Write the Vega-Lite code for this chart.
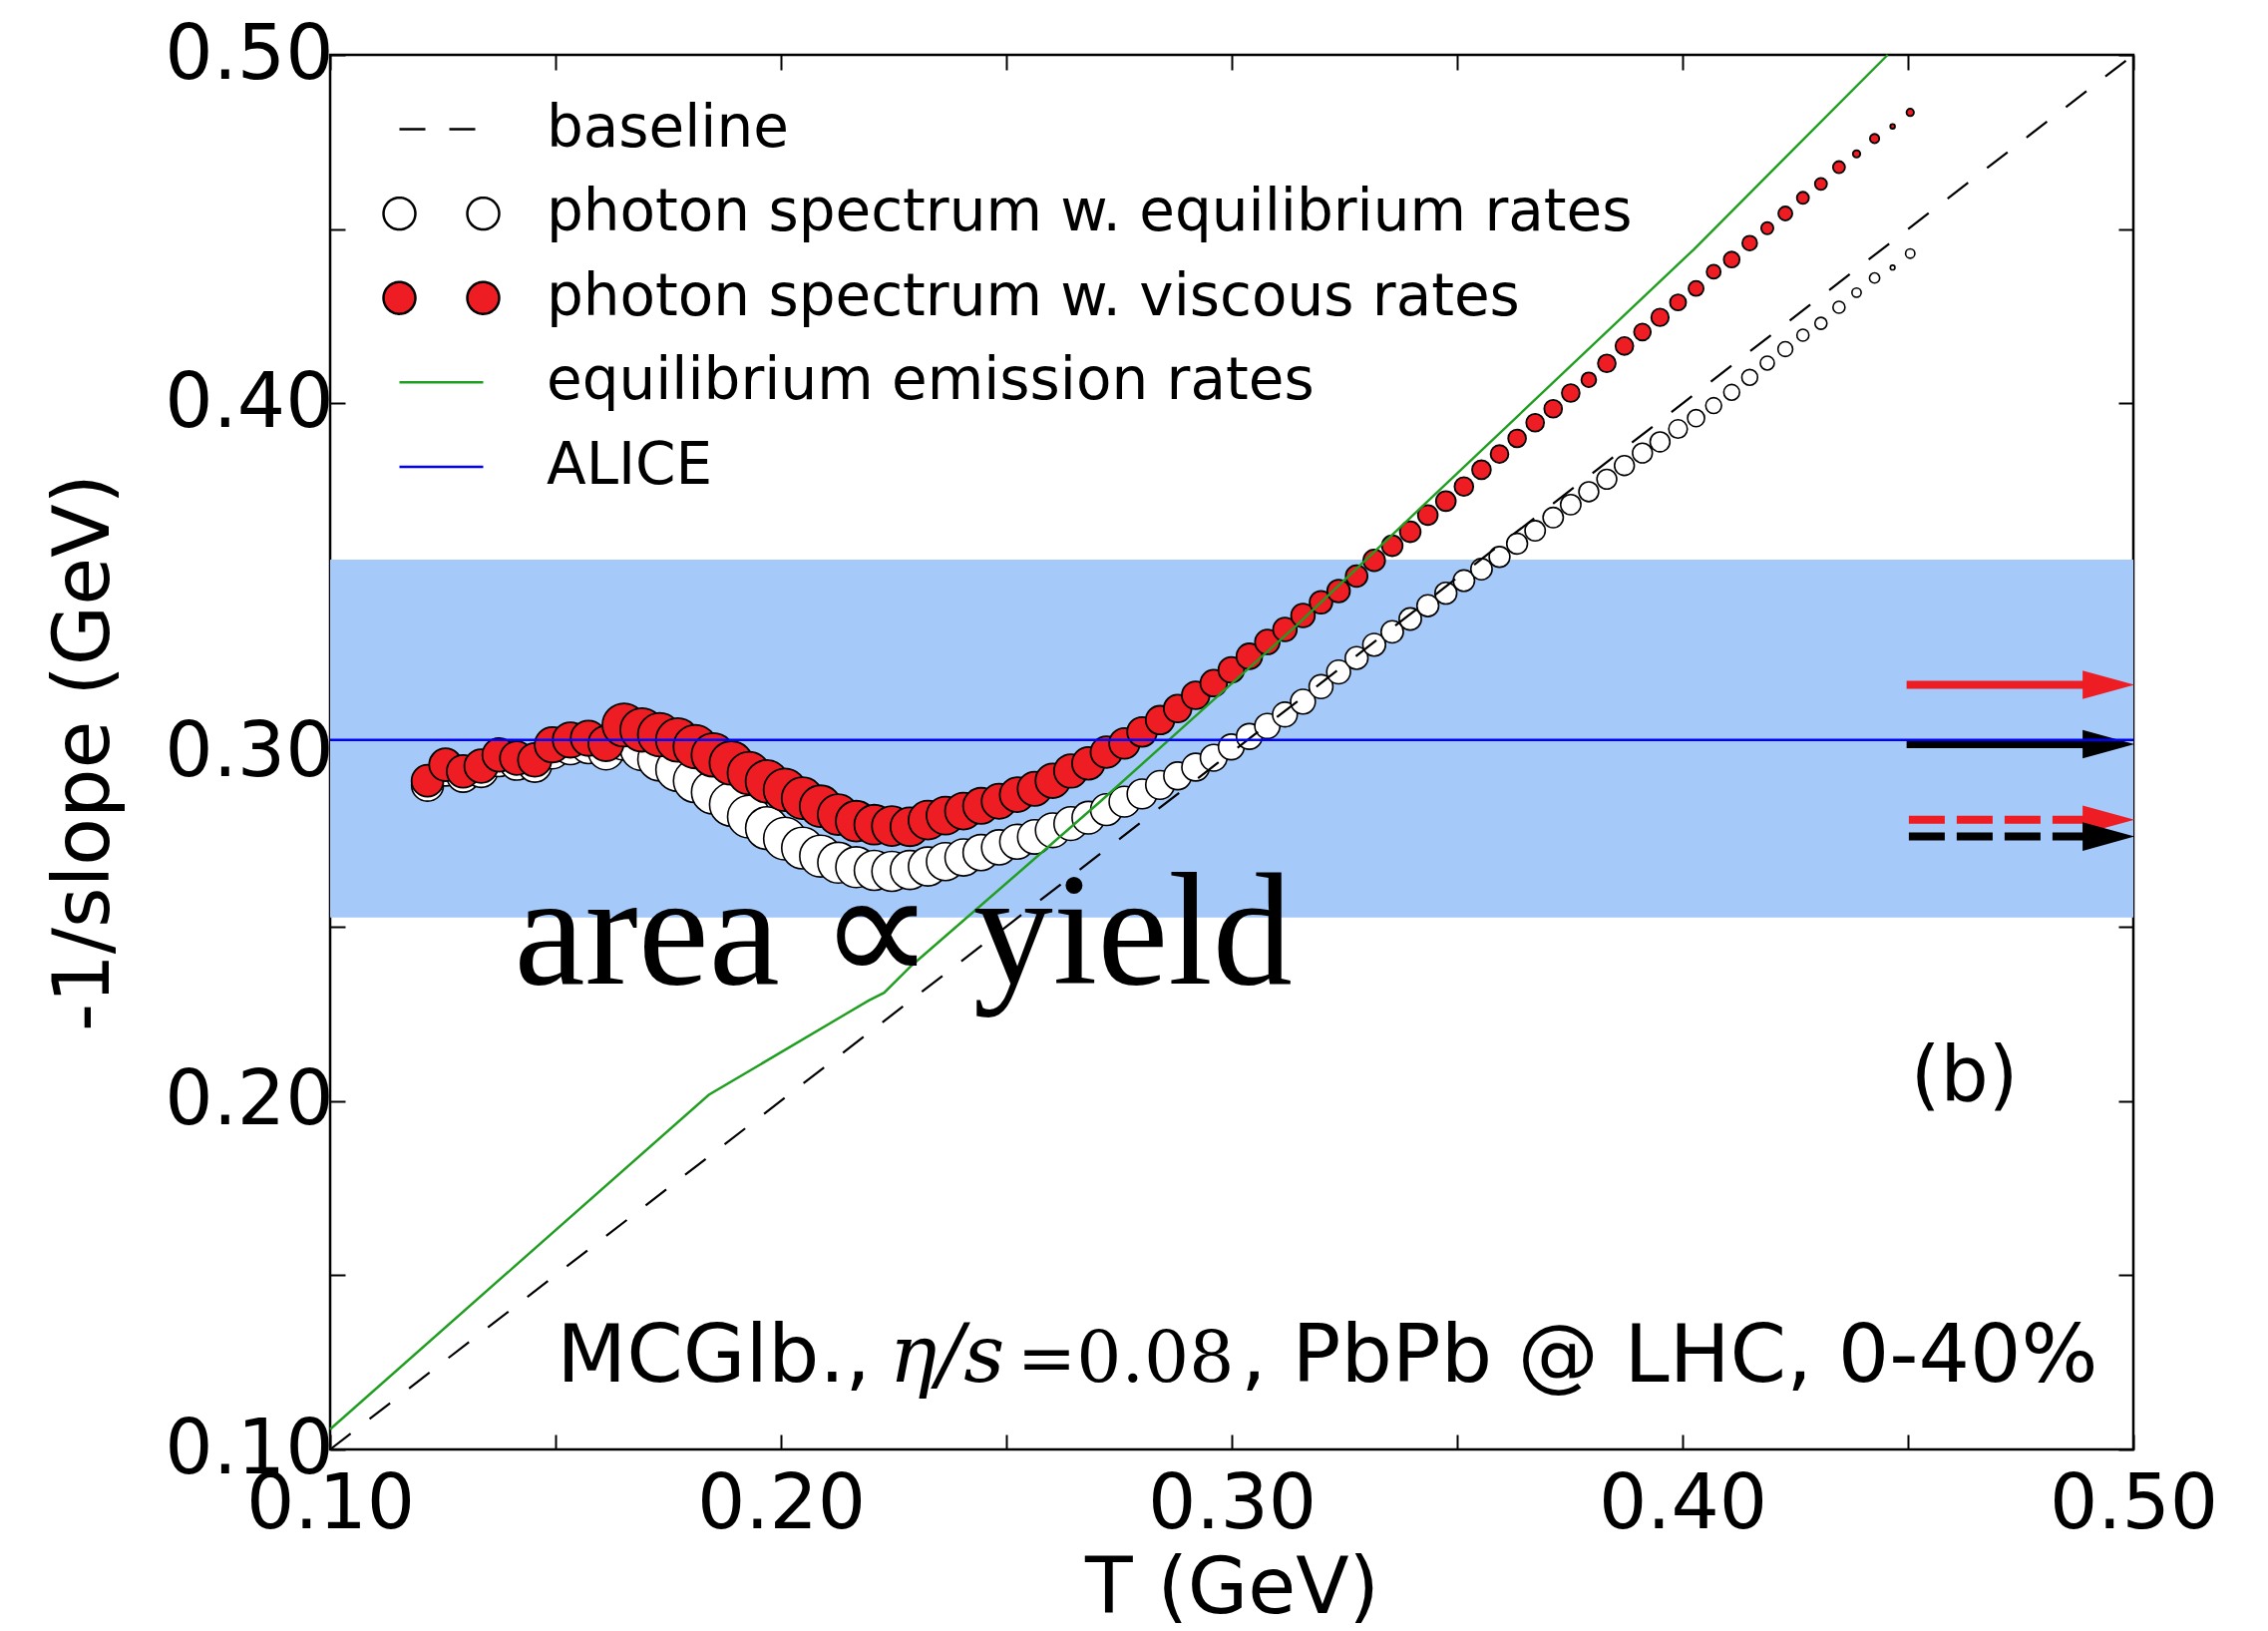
{
"$schema":"https://vega.github.io/schema/vega-lite/v6.json",
"width":1808,"height":1398,
"autosize":{"type":"none"},
"padding":{"left":331,"top":55,"right":135,"bottom":182},
"background":"white",
"config":{"view":{"stroke":"#000000","strokeWidth":2.5},"font":"DejaVu Sans"},
"datasets":{
"viscous":[
{"T":0.1216,"slope":0.2918,"yield":12.96},{"T":0.1256,"slope":0.2964,"yield":13.69},{"T":0.1295,"slope":0.2945,"yield":13.69},{"T":0.1335,"slope":0.2960,"yield":14.44},{"T":0.1375,"slope":0.2992,"yield":14.44},{"T":0.1414,"slope":0.2983,"yield":14.44},{"T":0.1454,"slope":0.2978,"yield":14.44},{"T":0.1493,"slope":0.3021,"yield":16},{"T":0.1533,"slope":0.3035,"yield":16},{"T":0.1573,"slope":0.3040,"yield":16},{"T":0.1612,"slope":0.3025,"yield":16},{"T":0.1652,"slope":0.3078,"yield":24},{"T":0.1692,"slope":0.3064,"yield":24.3},{"T":0.1731,"slope":0.3050,"yield":24.3},{"T":0.1771,"slope":0.3035,"yield":24.3},{"T":0.1810,"slope":0.3016,"yield":24.3},{"T":0.1850,"slope":0.2992,"yield":24.3},{"T":0.1890,"slope":0.2969,"yield":24.3},{"T":0.1929,"slope":0.2940,"yield":23.3},{"T":0.1969,"slope":0.2916,"yield":23.3},{"T":0.2009,"slope":0.2892,"yield":23.3},{"T":0.2048,"slope":0.2868,"yield":22.3},{"T":0.2088,"slope":0.2845,"yield":22.3},{"T":0.2127,"slope":0.2821,"yield":21.3},{"T":0.2167,"slope":0.2802,"yield":21.3},{"T":0.2207,"slope":0.2792,"yield":20.3},{"T":0.2246,"slope":0.2788,"yield":20.3},{"T":0.2286,"slope":0.2786,"yield":19.3},{"T":0.2326,"slope":0.2805,"yield":19.3},{"T":0.2365,"slope":0.2818,"yield":18.4},{"T":0.2405,"slope":0.2831,"yield":17.5},{"T":0.2444,"slope":0.2846,"yield":16.6},{"T":0.2484,"slope":0.2859,"yield":15.7},{"T":0.2524,"slope":0.2878,"yield":15.5},{"T":0.2563,"slope":0.2895,"yield":15},{"T":0.2603,"slope":0.2918,"yield":15.3},{"T":0.2643,"slope":0.2946,"yield":14.45},{"T":0.2682,"slope":0.2968,"yield":13.6},{"T":0.2722,"slope":0.3000,"yield":12.8},{"T":0.2762,"slope":0.3025,"yield":12},{"T":0.2801,"slope":0.3058,"yield":11.25},{"T":0.2841,"slope":0.3092,"yield":10.5},{"T":0.2880,"slope":0.3125,"yield":9.8},{"T":0.2920,"slope":0.3163,"yield":9.8},{"T":0.2960,"slope":0.3198,"yield":9.1},{"T":0.2999,"slope":0.3236,"yield":8.45},{"T":0.3039,"slope":0.3275,"yield":8.45},{"T":0.3079,"slope":0.3316,"yield":7.8},{"T":0.3118,"slope":0.3352,"yield":7.2},{"T":0.3158,"slope":0.3392,"yield":7.2},{"T":0.3198,"slope":0.3430,"yield":6.6},{"T":0.3237,"slope":0.3462,"yield":6.6},{"T":0.3277,"slope":0.3505,"yield":6.05},{"T":0.3316,"slope":0.3550,"yield":6.05},{"T":0.3356,"slope":0.3592,"yield":5.5},{"T":0.3396,"slope":0.3632,"yield":5.5},{"T":0.3435,"slope":0.3680,"yield":5},{"T":0.3475,"slope":0.3720,"yield":5},{"T":0.3515,"slope":0.3762,"yield":4.5},{"T":0.3554,"slope":0.3810,"yield":4.5},{"T":0.3594,"slope":0.3855,"yield":4.05},{"T":0.3633,"slope":0.3900,"yield":4.05},{"T":0.3673,"slope":0.3945,"yield":4.05},{"T":0.3713,"slope":0.3985,"yield":4.05},{"T":0.3752,"slope":0.4030,"yield":4.05},{"T":0.3792,"slope":0.4068,"yield":2.8},{"T":0.3832,"slope":0.4115,"yield":4.05},{"T":0.3871,"slope":0.4165,"yield":4.05},{"T":0.3911,"slope":0.4205,"yield":3.6},{"T":0.3950,"slope":0.4247,"yield":3.9},{"T":0.3990,"slope":0.4290,"yield":3.3},{"T":0.4030,"slope":0.4330,"yield":2.9},{"T":0.4069,"slope":0.4378,"yield":2.5},{"T":0.4109,"slope":0.4413,"yield":3.2},{"T":0.4149,"slope":0.4460,"yield":2.8},{"T":0.4188,"slope":0.4503,"yield":1.9},{"T":0.4228,"slope":0.4545,"yield":2.5},{"T":0.4267,"slope":0.4590,"yield":1.85},{"T":0.4307,"slope":0.4630,"yield":1.85},{"T":0.4347,"slope":0.4678,"yield":1.85},{"T":0.4386,"slope":0.4716,"yield":0.7},{"T":0.4426,"slope":0.4760,"yield":1.1},{"T":0.4466,"slope":0.4795,"yield":0.28},{"T":0.4505,"slope":0.4835,"yield":0.7}
],
"equilibrium":[
{"T":0.1216,"slope":0.2905,"yield":12.96},{"T":0.1256,"slope":0.2950,"yield":13.69},{"T":0.1295,"slope":0.2932,"yield":13.69},{"T":0.1335,"slope":0.2947,"yield":14.44},{"T":0.1375,"slope":0.2978,"yield":14.44},{"T":0.1414,"slope":0.2968,"yield":14.44},{"T":0.1454,"slope":0.2962,"yield":14.44},{"T":0.1493,"slope":0.3003,"yield":16},{"T":0.1533,"slope":0.3015,"yield":16},{"T":0.1573,"slope":0.3018,"yield":16},{"T":0.1612,"slope":0.3000,"yield":16},{"T":0.1652,"slope":0.3040,"yield":24.3},{"T":0.1692,"slope":0.3010,"yield":24.3},{"T":0.1731,"slope":0.2980,"yield":24.3},{"T":0.1771,"slope":0.2950,"yield":24.3},{"T":0.1810,"slope":0.2918,"yield":24.3},{"T":0.1850,"slope":0.2885,"yield":24.3},{"T":0.1890,"slope":0.2850,"yield":24.3},{"T":0.1929,"slope":0.2815,"yield":23.3},{"T":0.1969,"slope":0.2782,"yield":23.3},{"T":0.2009,"slope":0.2752,"yield":23.3},{"T":0.2048,"slope":0.2725,"yield":22.3},{"T":0.2088,"slope":0.2702,"yield":22.3},{"T":0.2127,"slope":0.2683,"yield":21.3},{"T":0.2167,"slope":0.2670,"yield":21.3},{"T":0.2207,"slope":0.2661,"yield":20.3},{"T":0.2246,"slope":0.2658,"yield":20.3},{"T":0.2286,"slope":0.2662,"yield":19.3},{"T":0.2326,"slope":0.2672,"yield":19.3},{"T":0.2365,"slope":0.2686,"yield":18.4},{"T":0.2405,"slope":0.2698,"yield":17.5},{"T":0.2444,"slope":0.2712,"yield":16.6},{"T":0.2484,"slope":0.2727,"yield":15.7},{"T":0.2524,"slope":0.2743,"yield":15.5},{"T":0.2563,"slope":0.2757,"yield":15},{"T":0.2603,"slope":0.2776,"yield":15.3},{"T":0.2643,"slope":0.2795,"yield":14.45},{"T":0.2682,"slope":0.2812,"yield":13.6},{"T":0.2722,"slope":0.2835,"yield":12.8},{"T":0.2762,"slope":0.2858,"yield":12},{"T":0.2801,"slope":0.2880,"yield":11.25},{"T":0.2841,"slope":0.2906,"yield":10.5},{"T":0.2880,"slope":0.2932,"yield":9.8},{"T":0.2920,"slope":0.2957,"yield":9.8},{"T":0.2960,"slope":0.2984,"yield":9.1},{"T":0.2999,"slope":0.3015,"yield":8.45},{"T":0.3039,"slope":0.3045,"yield":8.45},{"T":0.3079,"slope":0.3075,"yield":8.1},{"T":0.3118,"slope":0.3108,"yield":7.8},{"T":0.3158,"slope":0.3145,"yield":7.8},{"T":0.3198,"slope":0.3188,"yield":7.2},{"T":0.3237,"slope":0.3230,"yield":7.2},{"T":0.3277,"slope":0.3270,"yield":6.6},{"T":0.3316,"slope":0.3308,"yield":6.6},{"T":0.3356,"slope":0.3345,"yield":6.3},{"T":0.3396,"slope":0.3382,"yield":6.3},{"T":0.3435,"slope":0.3420,"yield":6.05},{"T":0.3475,"slope":0.3456,"yield":6.05},{"T":0.3515,"slope":0.3492,"yield":5.8},{"T":0.3554,"slope":0.3525,"yield":5.8},{"T":0.3594,"slope":0.3560,"yield":5.5},{"T":0.3633,"slope":0.3598,"yield":5.5},{"T":0.3673,"slope":0.3635,"yield":5.25},{"T":0.3713,"slope":0.3673,"yield":5.25},{"T":0.3752,"slope":0.3710,"yield":5.25},{"T":0.3792,"slope":0.3747,"yield":5},{"T":0.3832,"slope":0.3783,"yield":5},{"T":0.3871,"slope":0.3822,"yield":5},{"T":0.3911,"slope":0.3858,"yield":5},{"T":0.3950,"slope":0.3890,"yield":5},{"T":0.3990,"slope":0.3927,"yield":4.4},{"T":0.4030,"slope":0.3958,"yield":3.7},{"T":0.4069,"slope":0.3994,"yield":3.2},{"T":0.4109,"slope":0.4032,"yield":3.2},{"T":0.4149,"slope":0.4075,"yield":3.2},{"T":0.4188,"slope":0.4116,"yield":2.5},{"T":0.4228,"slope":0.4156,"yield":2.8},{"T":0.4267,"slope":0.4196,"yield":1.85},{"T":0.4307,"slope":0.4230,"yield":1.85},{"T":0.4347,"slope":0.4276,"yield":1.85},{"T":0.4386,"slope":0.4318,"yield":1.1},{"T":0.4426,"slope":0.4360,"yield":1.33},{"T":0.4466,"slope":0.4390,"yield":0.28},{"T":0.4505,"slope":0.4430,"yield":1.1}
],
"emission":[
{"T":0.1,"slope":0.1058},{"T":0.184,"slope":0.2017},{"T":0.2195,"slope":0.2288},{"T":0.2229,"slope":0.2310},{"T":0.2289,"slope":0.2387},{"T":0.2709,"slope":0.2859},{"T":0.3144,"slope":0.3364},{"T":0.4025,"slope":0.4442},{"T":0.4455,"slope":0.5}
],
"arrows":[
{"rates":"viscous","estimate":"full","from":0.4497,"to":0.4945,"slope":0.3193},
{"rates":"equilibrium","estimate":"full","from":0.4497,"to":0.4945,"slope":0.3023},
{"rates":"viscous","estimate":"partial","from":0.4502,"to":0.4945,"slope":0.2806},
{"rates":"equilibrium","estimate":"partial","from":0.4502,"to":0.4945,"slope":0.2758}
]
},
"layer":[
{"data":{"values":[{"lo":0.2526,"hi":0.3552}]},
 "mark":{"type":"rect","color":"#a5c9f9"},
 "encoding":{
  "x":{"datum":0.1,"type":"quantitative","scale":{"domain":[0.1,0.5],"nice":false,"zero":false},
   "axis":{"orient":"bottom","values":[0.1,0.15,0.2,0.25,0.3,0.35,0.4,0.45,0.5],"labelExpr":"round(datum.value*100) % 10 === 0 ? format(datum.value, '.2f') : ''","labelFont":"DejaVu Sans","labelFontSize":76,"labelColor":"#000000","labelPadding":33,"labelFlush":false,"labelOverlap":false,"tickSize":-15,"tickColor":"#000000","tickWidth":2,"domain":false,"grid":false,"title":"T (GeV)","titleFont":"DejaVu Sans","titleFontSize":78,"titleFontWeight":"normal","titleColor":"#000000","titlePadding":8}},
  "x2":{"datum":0.5},
  "y":{"field":"lo","type":"quantitative","scale":{"domain":[0.1,0.5],"nice":false,"zero":false},
   "axis":{"orient":"left","values":[0.1,0.15,0.2,0.25,0.3,0.35,0.4,0.45,0.5],"labelExpr":"round(datum.value*100) % 10 === 0 ? format(datum.value, '.2f') : ''","labelFont":"DejaVu Sans","labelFontSize":76,"labelColor":"#000000","labelPadding":12,"labelFlush":false,"labelOverlap":false,"tickSize":-15,"tickColor":"#000000","tickWidth":2,"domain":false,"grid":false,"title":"-1/slope (GeV)","titleFont":"DejaVu Sans","titleFontSize":78,"titleFontWeight":"normal","titleColor":"#000000","titlePadding":40}},
  "y2":{"field":"hi"}
 }},
{"data":{"name":"equilibrium"},
 "mark":{"type":"point","shape":"circle","filled":true,"strokeWidth":1.6,"opacity":1},
 "encoding":{
  "x":{"field":"T","type":"quantitative","scale":{"domain":[0.1,0.5],"nice":false,"zero":false},"axis":null},
  "y":{"field":"slope","type":"quantitative","scale":{"domain":[0.1,0.5],"nice":false,"zero":false},"axis":null},
  "size":{"field":"yield","type":"quantitative","scale":{"type":"linear","domain":[0,25],"range":[0,1963.5],"zero":true},"legend":null},
  "order":{"field":"T","type":"quantitative"},
  "fill":{"datum":"photon spectrum w. equilibrium rates","type":"nominal",
   "scale":{"domain":["baseline","photon spectrum w. equilibrium rates","photon spectrum w. viscous rates","equilibrium emission rates","ALICE"],"range":["transparent","#ffffff","#ee1d23","transparent","transparent"]},
   "legend":{"orient":"none","legendX":68,"legendY":31,"direction":"vertical","title":null,"padding":0,"offset":0,"labelFont":"DejaVu Sans","labelFontSize":58,"labelColor":"#000000","labelOffset":62,"labelLimit":3000,"rowPadding":11.6,"symbolSize":7056,"symbolStrokeWidth":2.5,"symbolOpacity":1}},
  "stroke":{"datum":"photon spectrum w. equilibrium rates","type":"nominal",
   "scale":{"domain":["baseline","photon spectrum w. equilibrium rates","photon spectrum w. viscous rates","equilibrium emission rates","ALICE"],"range":["#000000","#000000","#000000","#1f9e1f","#0000ff"]}}
 }},
{"data":{"name":"viscous"},
 "mark":{"type":"point","shape":"circle","filled":true,"strokeWidth":1.8,"opacity":1},
 "encoding":{
  "x":{"field":"T","type":"quantitative","scale":{"domain":[0.1,0.5],"nice":false,"zero":false},"axis":null},
  "y":{"field":"slope","type":"quantitative","scale":{"domain":[0.1,0.5],"nice":false,"zero":false},"axis":null},
  "size":{"field":"yield","type":"quantitative","scale":{"type":"linear","domain":[0,25],"range":[0,1963.5],"zero":true},"legend":null},
  "order":{"field":"T","type":"quantitative"},
  "fill":{"datum":"photon spectrum w. viscous rates","type":"nominal"},
  "stroke":{"datum":"photon spectrum w. viscous rates","type":"nominal"}
 }},
{"data":{"values":[{"T":0.1,"slope":0.1},{"T":0.5,"slope":0.5}]},
 "mark":{"type":"line","strokeWidth":2.2,"opacity":1},
 "encoding":{
  "x":{"field":"T","type":"quantitative","scale":{"domain":[0.1,0.5],"nice":false,"zero":false},
   "axis":{"orient":"top","values":[0.1,0.15,0.2,0.25,0.3,0.35,0.4,0.45,0.5],"labels":false,"tickSize":-15,"tickColor":"#000000","tickWidth":2,"domain":false,"grid":false,"title":null}},
  "y":{"field":"slope","type":"quantitative","scale":{"domain":[0.1,0.5],"nice":false,"zero":false},
   "axis":{"orient":"right","values":[0.1,0.15,0.2,0.25,0.3,0.35,0.4,0.45,0.5],"labels":false,"tickSize":-15,"tickColor":"#000000","tickWidth":2,"domain":false,"grid":false,"title":null}},
  "stroke":{"datum":"baseline","type":"nominal"},
  "strokeDash":{"datum":"baseline","type":"nominal",
   "scale":{"domain":["baseline","photon spectrum w. equilibrium rates","photon spectrum w. viscous rates","equilibrium emission rates","ALICE"],"range":[[26,24],[1,0],[1,0],[1,0],[1,0]]}}
 }},
{"data":{"name":"emission"},
 "mark":{"type":"line","strokeWidth":2.4,"opacity":1},
 "encoding":{
  "x":{"field":"T","type":"quantitative","scale":{"domain":[0.1,0.5],"nice":false,"zero":false},"axis":null},
  "y":{"field":"slope","type":"quantitative","scale":{"domain":[0.1,0.5],"nice":false,"zero":false},"axis":null},
  "stroke":{"datum":"equilibrium emission rates","type":"nominal"}
 }},
{"data":{"name":"arrows"},
 "transform":[{"filter":"datum.estimate === 'full'"}],
 "mark":{"type":"rule","strokeWidth":8,"opacity":1},
 "encoding":{
  "x":{"field":"from","type":"quantitative","scale":{"domain":[0.1,0.5],"nice":false,"zero":false},"axis":null},
  "x2":{"field":"to"},
  "y":{"field":"slope","type":"quantitative","scale":{"domain":[0.1,0.5],"nice":false,"zero":false},"axis":null},
  "color":{"field":"rates","type":"nominal","scale":{"domain":["viscous","equilibrium"],"range":["#ee1d23","#000000"]},"legend":null}
 }},
{"data":{"name":"arrows"},
 "transform":[{"filter":"datum.estimate === 'partial'"}],
 "mark":{"type":"rule","strokeWidth":8,"strokeDash":[36,12],"opacity":1},
 "encoding":{
  "x":{"field":"from","type":"quantitative","scale":{"domain":[0.1,0.5],"nice":false,"zero":false},"axis":null},
  "x2":{"field":"to"},
  "y":{"field":"slope","type":"quantitative","scale":{"domain":[0.1,0.5],"nice":false,"zero":false},"axis":null},
  "color":{"field":"rates","type":"nominal","scale":{"domain":["viscous","equilibrium"],"range":["#ee1d23","#000000"]},"legend":null}
 }},
{"data":{"name":"arrows"},
 "mark":{"type":"point","shape":"M-1,-0.55L1,0L-1,0.55Z","filled":true,"size":2704,"opacity":1,"strokeWidth":0},
 "encoding":{
  "x":{"field":"to","type":"quantitative","scale":{"domain":[0.1,0.5],"nice":false,"zero":false},"axis":null},
  "y":{"field":"slope","type":"quantitative","scale":{"domain":[0.1,0.5],"nice":false,"zero":false},"axis":null},
  "color":{"field":"rates","type":"nominal","scale":{"domain":["viscous","equilibrium"],"range":["#ee1d23","#000000"]},"legend":null}
 }},
{"data":{"values":[{"slope":0.3035}]},
 "mark":{"type":"rule","strokeWidth":2.5,"opacity":1},
 "encoding":{
  "y":{"field":"slope","type":"quantitative","scale":{"domain":[0.1,0.5],"nice":false,"zero":false},"axis":null},
  "stroke":{"datum":"ALICE","type":"nominal"}
 }},
{"data":{"values":[]},
 "mark":{"type":"point","filled":false,"opacity":1},
 "encoding":{
  "shape":{"datum":"baseline","type":"nominal",
   "scale":{"domain":["baseline","photon spectrum w. equilibrium rates","photon spectrum w. viscous rates","equilibrium emission rates","ALICE"],"range":["stroke","M-1.38,0a0.38,0.38 0 1,0 0.76,0a0.38,0.38 0 1,0 -0.76,0M0.62,0a0.38,0.38 0 1,0 0.76,0a0.38,0.38 0 1,0 -0.76,0","M-1.38,0a0.38,0.38 0 1,0 0.76,0a0.38,0.38 0 1,0 -0.76,0M0.62,0a0.38,0.38 0 1,0 0.76,0a0.38,0.38 0 1,0 -0.76,0","stroke","stroke"]}}
 }},
{"data":{"values":[{}]},
 "mark":{"type":"text","align":"left","baseline":"alphabetic","font":"Liberation Serif","fontSize":160,"color":"#000000","text":"area ∝ yield"},
 "encoding":{
  "x":{"datum":0.1408,"type":"quantitative","scale":{"domain":[0.1,0.5],"nice":false,"zero":false},"axis":null},
  "y":{"datum":0.2336,"type":"quantitative","scale":{"domain":[0.1,0.5],"nice":false,"zero":false},"axis":null}
 }},
{"data":{"values":[{}]},
 "mark":{"type":"text","align":"center","baseline":"middle","font":"DejaVu Sans","fontSize":76,"color":"#000000","text":"(b)"},
 "encoding":{
  "x":{"datum":0.4625,"type":"quantitative","scale":{"domain":[0.1,0.5],"nice":false,"zero":false},"axis":null},
  "y":{"datum":0.2066,"type":"quantitative","scale":{"domain":[0.1,0.5],"nice":false,"zero":false},"axis":null}
 }},
{"data":{"values":[{}]},
 "mark":{"type":"text","align":"left","baseline":"alphabetic","font":"DejaVu Sans","fontSize":81,"color":"#000000","text":"MCGlb.,"},
 "encoding":{
  "x":{"datum":0.1503,"type":"quantitative","scale":{"domain":[0.1,0.5],"nice":false,"zero":false},"axis":null},
  "y":{"datum":0.1195,"type":"quantitative","scale":{"domain":[0.1,0.5],"nice":false,"zero":false},"axis":null}
 }},
{"data":{"values":[{}]},
 "mark":{"type":"text","align":"left","baseline":"alphabetic","font":"DejaVu Serif","fontStyle":"italic","fontSize":80,"color":"#000000","text":"η/s"},
 "encoding":{
  "x":{"datum":0.2240,"type":"quantitative","scale":{"domain":[0.1,0.5],"nice":false,"zero":false},"axis":null},
  "y":{"datum":0.1195,"type":"quantitative","scale":{"domain":[0.1,0.5],"nice":false,"zero":false},"axis":null}
 }},
{"data":{"values":[{}]},
 "mark":{"type":"text","align":"left","baseline":"alphabetic","font":"DejaVu Serif","fontSize":71,"color":"#000000","text":"=0.08"},
 "encoding":{
  "x":{"datum":0.2524,"type":"quantitative","scale":{"domain":[0.1,0.5],"nice":false,"zero":false},"axis":null},
  "y":{"datum":0.1195,"type":"quantitative","scale":{"domain":[0.1,0.5],"nice":false,"zero":false},"axis":null}
 }},
{"data":{"values":[{}]},
 "mark":{"type":"text","align":"left","baseline":"alphabetic","font":"DejaVu Sans","fontSize":81,"color":"#000000","text":", PbPb @ LHC, 0-40%"},
 "encoding":{
  "x":{"datum":0.3020,"type":"quantitative","scale":{"domain":[0.1,0.5],"nice":false,"zero":false},"axis":null},
  "y":{"datum":0.1195,"type":"quantitative","scale":{"domain":[0.1,0.5],"nice":false,"zero":false},"axis":null}
 }}
],
"resolve":{"axis":{"x":"independent","y":"independent"}}
}
